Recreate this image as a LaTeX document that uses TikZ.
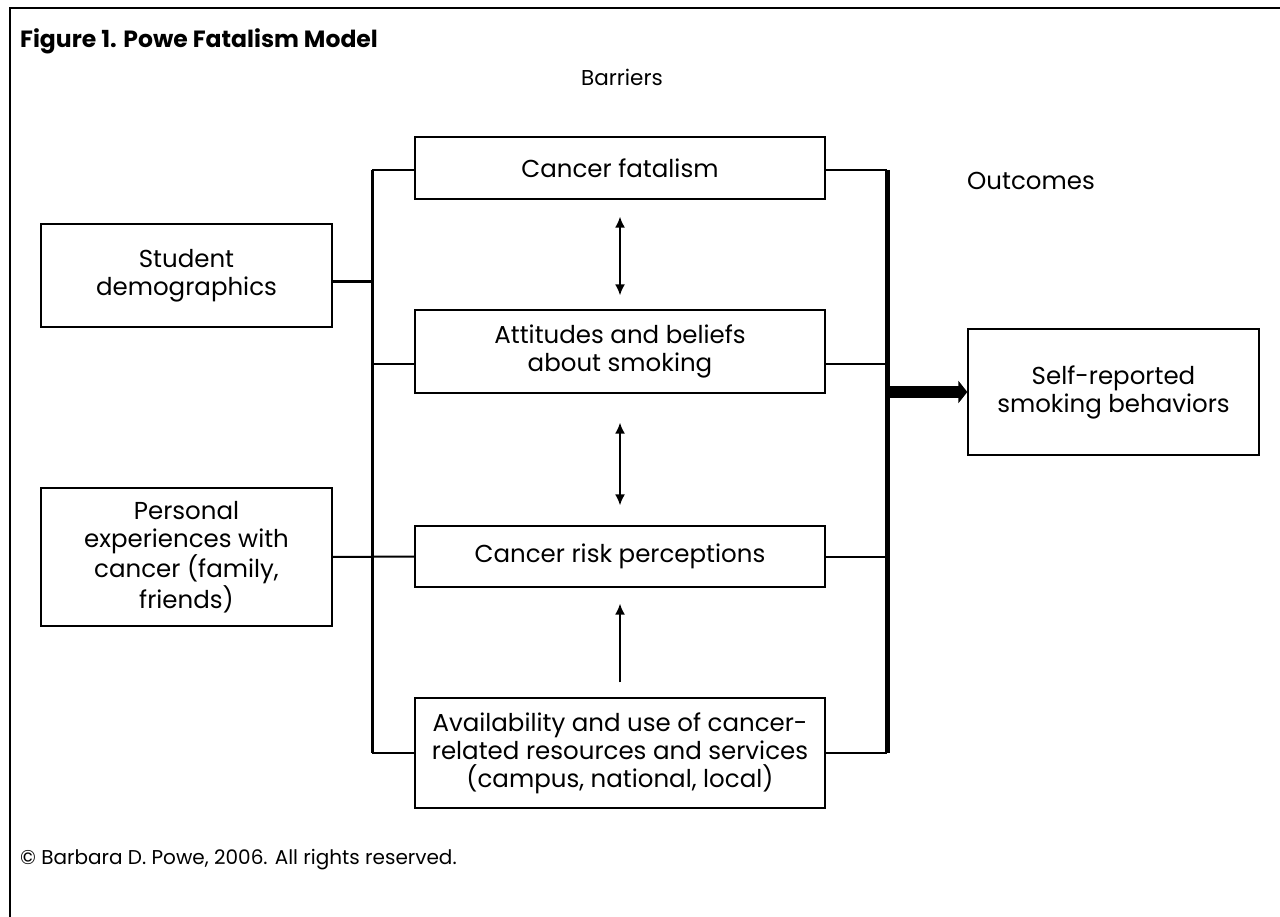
\documentclass[tikz,border=0pt]{standalone}
\usepackage{fontspec}
\setmainfont{Poppins}
\usetikzlibrary{arrows.meta}
\tikzset{
  x=1pt, y=-1pt,
  box/.style={draw, line width=1.3pt, align=center, inner sep=0pt,
    font=\fontsize{24.5}{28}\selectfont},
  lbl/.style={font=\fontsize{24.5}{28}\selectfont, inner sep=0pt},
  conn/.style={line width=2pt},
  spine/.style={line width=3pt},
  rspine/.style={line width=5pt},
  dbl/.style={line width=1.8pt, {Latex[length=11pt,width=10pt]}-{Latex[length=11pt,width=10pt]}},
  sgl/.style={line width=1.8pt, -{Latex[length=11pt,width=10pt]}},
  bigarrow/.style={line width=12pt, -{Triangle[length=9pt,width=22pt]}}
}
\begin{document}
\begin{tikzpicture}
\useasboundingbox (0,0) rectangle (1280,917);
% frame
\draw[line width=2pt] (10,917) -- (10,8) -- (1280,8);
% texts
\node[lbl, anchor=base west, font=\fontsize{23.5}{28}\selectfont\bfseries] (title) at (20,48) {Figure 1. Powe Fatalism Model};
\node[lbl, anchor=base, font=\fontsize{21.5}{24}\selectfont] (barriers) at (622,86) {Barriers};
\node[lbl, anchor=base west, font=\fontsize{24.5}{28}\selectfont] (outcomes) at (967,190) {Outcomes};
\node[lbl, anchor=base west, font=\fontsize{20}{24}\selectfont] (copy) at (20,864) {© Barbara D. Powe, 2006. All rights reserved.};
% boxes
\node[box, minimum width=410, minimum height=62] (cf) at (620,168) {Cancer fatalism};
\node[box, minimum width=410, minimum height=83] (att) at (620,351.5) {Attitudes and beliefs\\about smoking};
\node[box, minimum width=410, minimum height=61] (risk) at (620,556.5) {Cancer risk perceptions};
\node[box, minimum width=410, minimum height=110] (avail) at (620,753) {Availability and use of cancer-\\related resources and services\\(campus, national, local)};
\node[box, minimum width=291, minimum height=103] (stud) at (186.5,275.5) {Student\\demographics};
\node[box, minimum width=291, minimum height=138] (pers) at (186.5,557) {Personal\\experiences with\\cancer (family,\\friends)};
\node[box, minimum width=291, minimum height=126] (self) at (1113.5,392) {Self-reported\\smoking behaviors};
% spine coordinates
\coordinate (lx) at (372,0);
\coordinate (rx) at (887,0);
% left spine
\draw[spine] ([yshift=-2pt]cf.west -| lx) -- (avail.west -| lx);
\draw[conn] ([yshift=-2pt]cf.west) -- ([yshift=-2pt]cf.west -| lx);
\draw[conn] ([yshift=-12pt]att.west) -- ([yshift=-12pt]att.west -| lx);
\draw[conn] (avail.west) -- (avail.west -| lx);
\draw[spine] ([yshift=-6pt]stud.east) -- ([yshift=-6pt]stud.east -| lx);
\draw[conn] (pers.east) -- (risk.west);
% right spine
\draw[rspine] ([yshift=-2pt]cf.east -| rx) -- (avail.east -| rx);
\draw[conn] ([yshift=-2pt]cf.east) -- ([yshift=-2pt]cf.east -| rx);
\draw[conn] ([yshift=-12pt]att.east) -- ([yshift=-12pt]att.east -| rx);
\draw[conn] (risk.east) -- (risk.east -| rx);
\draw[conn] (avail.east) -- (avail.east -| rx);
\draw[bigarrow] (self.west -| rx) -- (self.west);
% vertical arrows
\draw[dbl] ([yshift=-17pt]cf.south) -- ([yshift=14pt]att.north);
\draw[dbl] ([yshift=-29pt]att.south) -- ([yshift=20pt]risk.north);
\draw[sgl] ([yshift=15pt]avail.north) -- ([yshift=-16pt]risk.south);
\end{tikzpicture}
\end{document}
